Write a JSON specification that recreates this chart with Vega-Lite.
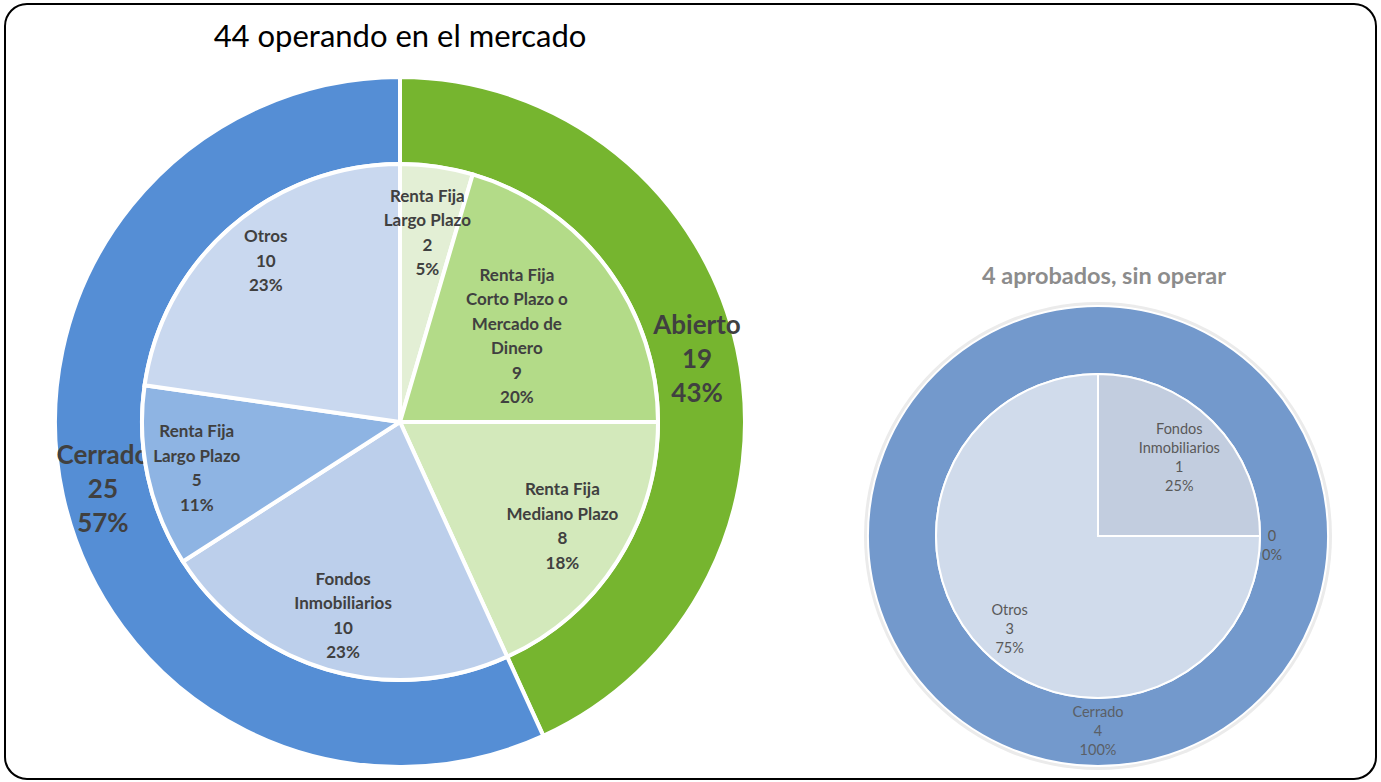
{
  "$schema": "https://vega.github.io/schema/vega-lite/v6.json",
  "width": 1381,
  "height": 782,
  "autosize": {"type": "fit", "contains": "padding"},
  "padding": {"left": 5, "top": 4, "right": 5, "bottom": 3},
  "background": "white",
  "config": {
    "view": {"stroke": "#000000", "strokeWidth": 2, "cornerRadius": 22},
    "font": "Lato",
    "text": {"font": "Lato", "lineBreak": "\n", "align": "center", "baseline": "middle"}
  },
  "datasets": {
    "externo": [
      {"grafico": "operando", "segmento": "Abierto", "orden": 1, "n": 19, "etiqueta": "Abierto\n19\n43%"},
      {"grafico": "operando", "segmento": "Cerrado", "orden": 2, "n": 25, "etiqueta": "Cerrado\n25\n57%"},
      {"grafico": "sin operar", "segmento": "Sin operar · Abierto", "orden": 1, "n": 0, "etiqueta": ""},
      {"grafico": "sin operar", "segmento": "Sin operar · Cerrado", "orden": 2, "n": 4, "etiqueta": "Cerrado\n4\n100%"}
    ],
    "interno": [
      {"grafico": "operando", "segmento": "Abierto · Renta Fija Largo Plazo", "orden": 1, "n": 2, "etiqueta": "Renta Fija\nLargo Plazo\n2\n5%"},
      {"grafico": "operando", "segmento": "Abierto · Renta Fija Corto Plazo o Mercado de Dinero", "orden": 2, "n": 9, "etiqueta": "Renta Fija\nCorto Plazo o\nMercado de\nDinero\n9\n20%"},
      {"grafico": "operando", "segmento": "Abierto · Renta Fija Mediano Plazo", "orden": 3, "n": 8, "etiqueta": "Renta Fija\nMediano Plazo\n8\n18%"},
      {"grafico": "operando", "segmento": "Cerrado · Fondos Inmobiliarios", "orden": 4, "n": 10, "etiqueta": "Fondos\nInmobiliarios\n10\n23%"},
      {"grafico": "operando", "segmento": "Cerrado · Renta Fija Largo Plazo", "orden": 5, "n": 5, "etiqueta": "Renta Fija\nLargo Plazo\n5\n11%"},
      {"grafico": "operando", "segmento": "Cerrado · Otros", "orden": 6, "n": 10, "etiqueta": "Otros\n10\n23%"},
      {"grafico": "sin operar", "segmento": "Sin operar · Fondos Inmobiliarios", "orden": 1, "n": 1, "etiqueta": "Fondos\nInmobiliarios\n1\n25%"},
      {"grafico": "sin operar", "segmento": "Sin operar · Abierto (fondos)", "orden": 2, "n": 0, "etiqueta": "0\n0%"},
      {"grafico": "sin operar", "segmento": "Sin operar · Otros", "orden": 3, "n": 3, "etiqueta": "Otros\n3\n75%"}
    ],
    "titulos": [
      {"grafico": "operando", "titulo": "44 operando en el mercado"},
      {"grafico": "sin operar", "titulo": "4 aprobados, sin operar"}
    ]
  },
  "encoding": {
    "x": {"field": "grafico", "type": "nominal", "scale": {"type": "point", "domain": ["operando", "sin operar"], "range": [395, 1093], "padding": 0}, "axis": null},
    "y": {"field": "grafico", "type": "nominal", "scale": {"type": "point", "domain": ["operando", "sin operar"], "range": [418, 532], "padding": 0}, "axis": null},
    "theta": {"field": "n", "type": "quantitative", "stack": "normalize"},
    "order": {"field": "orden", "type": "quantitative"}
  },
  "layer": [
    {
      "data": {"name": "externo"},
      "transform": [{"filter": "datum.grafico == 'operando'"}],
      "mark": {"type": "arc", "radius": 345, "radius2": 258, "stroke": "white", "strokeWidth": 4},
      "encoding": {
        "color": {"field": "segmento", "type": "nominal", "legend": null,
          "scale": {
            "domain": ["Abierto", "Cerrado", "Abierto · Renta Fija Largo Plazo", "Abierto · Renta Fija Corto Plazo o Mercado de Dinero", "Abierto · Renta Fija Mediano Plazo", "Cerrado · Fondos Inmobiliarios", "Cerrado · Renta Fija Largo Plazo", "Cerrado · Otros", "Sin operar · Abierto", "Sin operar · Cerrado", "Sin operar · Fondos Inmobiliarios", "Sin operar · Abierto (fondos)", "Sin operar · Otros"],
            "range": ["#76b52f", "#558ed5", "#e3efd5", "#b3db88", "#d3e9bb", "#bccfeb", "#8eb4e3", "#c9d8ef", "#7399cc", "#7399cc", "#c2cddf", "#d0dbeb", "#d0dbeb"]
          }
        }
      }
    },
    {
      "data": {"name": "externo"},
      "transform": [{"filter": "datum.grafico == 'operando'"}],
      "mark": {"type": "text", "radius": 304, "dy": -31, "fontSize": 26, "fontWeight": "bold", "lineHeight": 34, "color": "#404040"},
      "encoding": {"text": {"field": "etiqueta"}}
    },
    {
      "data": {"name": "interno"},
      "transform": [{"filter": "datum.grafico == 'operando'"}],
      "mark": {"type": "arc", "radius": 258, "stroke": "white", "strokeWidth": 4},
      "encoding": {"color": {"field": "segmento", "type": "nominal", "legend": null}}
    },
    {
      "data": {"name": "interno"},
      "transform": [{"filter": "datum.grafico == 'operando'"}],
      "mark": {"type": "text", "radius": 192, "dy": -35, "fontSize": 17, "fontWeight": "bold", "lineHeight": 24.5, "color": "#404040"},
      "encoding": {"text": {"condition": {"test": "datum.orden != 1", "value": ""}, "field": "etiqueta"}}
    },
    {
      "data": {"name": "interno"},
      "transform": [{"filter": "datum.grafico == 'operando'"}],
      "mark": {"type": "text", "radius": 146, "dy": -59, "fontSize": 17, "fontWeight": "bold", "lineHeight": 24.5, "color": "#404040"},
      "encoding": {"text": {"condition": {"test": "datum.orden != 2", "value": ""}, "field": "etiqueta"}}
    },
    {
      "data": {"name": "interno"},
      "transform": [{"filter": "datum.grafico == 'operando'"}],
      "mark": {"type": "text", "radius": 193, "dy": -36, "fontSize": 17, "fontWeight": "bold", "lineHeight": 24.5, "color": "#404040"},
      "encoding": {"text": {"condition": {"test": "datum.orden != 3", "value": ""}, "field": "etiqueta"}}
    },
    {
      "data": {"name": "interno"},
      "transform": [{"filter": "datum.grafico == 'operando'"}],
      "mark": {"type": "text", "radius": 202, "dy": -36, "fontSize": 17, "fontWeight": "bold", "lineHeight": 24.5, "color": "#404040"},
      "encoding": {"text": {"condition": {"test": "datum.orden != 4", "value": ""}, "field": "etiqueta"}}
    },
    {
      "data": {"name": "interno"},
      "transform": [{"filter": "datum.grafico == 'operando'"}],
      "mark": {"type": "text", "radius": 208, "dy": -34, "fontSize": 17, "fontWeight": "bold", "lineHeight": 24.5, "color": "#404040"},
      "encoding": {"text": {"condition": {"test": "datum.orden != 5", "value": ""}, "field": "etiqueta"}}
    },
    {
      "data": {"name": "interno"},
      "transform": [{"filter": "datum.grafico == 'operando'"}],
      "mark": {"type": "text", "radius": 205, "dy": -30, "fontSize": 17, "fontWeight": "bold", "lineHeight": 24.5, "color": "#404040"},
      "encoding": {"text": {"condition": {"test": "datum.orden != 6", "value": ""}, "field": "etiqueta"}}
    },
    {
      "data": {"name": "externo"},
      "transform": [{"filter": "datum.grafico == 'sin operar'"}],
      "mark": {"type": "arc", "radius": 234, "color": "#ebebeb"}
    },
    {
      "data": {"name": "externo"},
      "transform": [{"filter": "datum.grafico == 'sin operar'"}],
      "mark": {"type": "arc", "radius": 230, "radius2": 162, "stroke": "white", "strokeWidth": 2},
      "encoding": {"color": {"field": "segmento", "type": "nominal", "legend": null}}
    },
    {
      "data": {"name": "externo"},
      "transform": [{"filter": "datum.grafico == 'sin operar'"}],
      "mark": {"type": "text", "radius": 195, "dy": -18, "fontSize": 14.5, "lineHeight": 19, "color": "#5a5f66"},
      "encoding": {"text": {"field": "etiqueta"}}
    },
    {
      "data": {"name": "interno"},
      "transform": [{"filter": "datum.grafico == 'sin operar'"}],
      "mark": {"type": "arc", "radius": 162, "stroke": "white", "strokeWidth": 2},
      "encoding": {"color": {"field": "segmento", "type": "nominal", "legend": null}}
    },
    {
      "data": {"name": "interno"},
      "transform": [{"filter": "datum.grafico == 'sin operar'"}],
      "mark": {"type": "text", "radius": 115, "dy": -25, "fontSize": 14.5, "lineHeight": 19, "color": "#595959"},
      "encoding": {"text": {"condition": {"test": "datum.orden != 1", "value": ""}, "field": "etiqueta"}}
    },
    {
      "data": {"name": "interno"},
      "transform": [{"filter": "datum.grafico == 'sin operar'"}],
      "mark": {"type": "text", "radius": 174, "dy": 1, "fontSize": 14.5, "lineHeight": 19, "color": "#595959"},
      "encoding": {"text": {"condition": {"test": "datum.orden != 2", "value": ""}, "field": "etiqueta"}}
    },
    {
      "data": {"name": "interno"},
      "transform": [{"filter": "datum.grafico == 'sin operar'"}],
      "mark": {"type": "text", "radius": 125, "dy": -13, "fontSize": 14.5, "lineHeight": 19, "color": "#595959"},
      "encoding": {"text": {"condition": {"test": "datum.orden != 3", "value": ""}, "field": "etiqueta"}}
    },
    {
      "data": {"name": "titulos"},
      "transform": [{"filter": "datum.grafico == 'operando'"}],
      "mark": {"type": "text", "dy": -384, "fontSize": 31, "color": "#000000"},
      "encoding": {"text": {"field": "titulo"}, "theta": null, "order": null}
    },
    {
      "data": {"name": "titulos"},
      "transform": [{"filter": "datum.grafico == 'sin operar'"}],
      "mark": {"type": "text", "dy": -259, "dx": 6, "fontSize": 23.5, "fontWeight": "bold", "color": "#8c8c8c"},
      "encoding": {"text": {"field": "titulo"}, "theta": null, "order": null}
    }
  ]
}
